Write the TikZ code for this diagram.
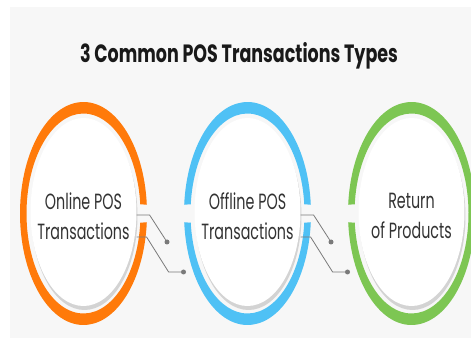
\documentclass[tikz,border=0pt]{standalone}
\usepackage{fontspec}
\setmainfont{Poppins}
\usepackage[dvipsnames]{xcolor}
\usetikzlibrary{shapes.geometric,shadows,calc}

\definecolor{ringorange}{HTML}{FF7A0A}
\definecolor{ringblue}{HTML}{4FC1F5}
\definecolor{ringgreen}{HTML}{7DC653}
\definecolor{paper}{HTML}{F7F7F7}
\definecolor{textgrey}{HTML}{333333}
\definecolor{wiregrey}{HTML}{7A7A7A}

\begin{document}
\begin{tikzpicture}[x=1pt,y=1pt,
    disc/.style={ellipse,fill=white,inner sep=0pt,minimum width=163pt,minimum height=188pt,xscale=0.65,transform shape,drop shadow={shadow xshift=1pt,shadow yshift=-4pt,opacity=0.3}},
    caption/.style={align=center,text=textgrey,font=\fontsize{22}{30}\selectfont,xscale=0.65,transform shape},
    dot/.style={circle,fill=wiregrey,inner sep=0pt,minimum size=5pt},
    wire/.style={draw=wiregrey,line width=0.8pt}]
    \useasboundingbox (0,0) rectangle (471,356);
    \fill[paper] (10,18) rectangle (471,349);

    \node[font=\fontsize{25}{28}\selectfont\bfseries,text=black!90,xscale=0.7,transform shape] (0) at (239,300) {3 Common POS Transactions Types};

    % rings
    \coordinate (o) at (83.5,142.5);
    \coordinate (b) at (247.5,142.5);
    \coordinate (g) at (411.5,142.5);
    \fill[ringorange] (o) ++(4.6:63.5 and 111.5) arc[start angle=4.6,end angle=355.4,x radius=63.5,y radius=111.5]
        -- ($(o)+(-5.2:57 and 100)$) arc[start angle=-5.2,end angle=-354.8,x radius=57,y radius=100] -- cycle;
    \fill[ringblue] (b) ++(4.6:63.5 and 111.5) arc[start angle=4.6,end angle=175.4,x radius=63.5,y radius=111.5]
        -- ($(b)+(174.8:57 and 100)$) arc[start angle=174.8,end angle=5.2,x radius=57,y radius=100] -- cycle;
    \fill[ringblue] (b) ++(184.6:63.5 and 111.5) arc[start angle=184.6,end angle=355.4,x radius=63.5,y radius=111.5]
        -- ($(b)+(354.8:57 and 100)$) arc[start angle=354.8,end angle=185.2,x radius=57,y radius=100] -- cycle;
    \fill[ringgreen] (g) ++(184.6:63.5 and 111.5) arc[start angle=184.6,end angle=535.4,x radius=63.5,y radius=111.5]
        -- ($(g)+(534.8:57 and 100)$) arc[start angle=534.8,end angle=185.2,x radius=57,y radius=100] -- cycle;

    \node[disc] (1) at (83.5,144) {};
    \node[disc] (2) at (247.5,144) {};
    \node[disc] (3) at (411.5,144) {};
    \node[caption] (8) at ([yshift=-4pt]1.center) {Online POS\\Transactions};
    \node[caption] (9) at ([yshift=-4pt]2.center) {Offline POS\\Transactions};
    \node[caption] (10) at ([yshift=-4pt]3.center) {Return\\of Products};

    \node[dot] (4) at (167,114) {};
    \node[dot] (5) at (183.5,84) {};
    \node[dot] (6) at (331,114) {};
    \node[dot] (7) at (347.5,84) {};

    \draw[wire] ([yshift=-3pt]1.east) -- ++(13,0) -- (4);
    \draw[wire] ([yshift=-25pt]1.east) -- ++(10,0) -- ++(22,-35) -- (5);
    \draw[wire] ([yshift=-3pt]2.east) -- ++(13,0) -- (6);
    \draw[wire] ([yshift=-25pt]2.east) -- ++(10,0) -- ++(22,-35) -- (7);
\end{tikzpicture}
\end{document}
